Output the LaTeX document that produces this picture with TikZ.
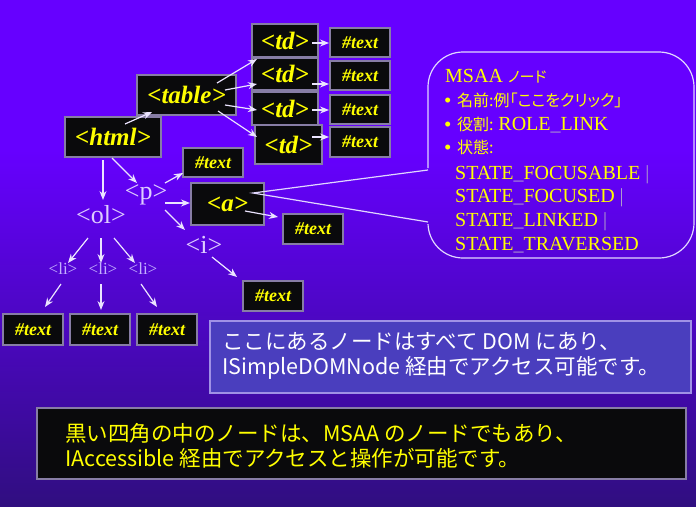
\documentclass[tikz,border=0pt]{standalone}
\usepackage{fontspec}
\setmainfont{Liberation Serif}
\newfontfamily\cjk{Noto Sans CJK JP}
\newfontfamily\cjkp[RawFeature=+palt]{Noto Sans CJK JP}
\usetikzlibrary{arrows.meta}
\definecolor{bgtop}{RGB}{102,0,255}
\definecolor{bgmid}{RGB}{88,0,222}
\definecolor{bgbot}{RGB}{48,14,128}
\definecolor{ylw}{RGB}{255,255,0}
\definecolor{lav}{RGB}{222,205,255}
\definecolor{lavdim}{RGB}{195,175,255}
\definecolor{arrc}{RGB}{235,228,255}
\definecolor{boxedge}{RGB}{135,125,165}
\definecolor{boxfill}{RGB}{10,10,12}
\definecolor{domfill}{RGB}{74,62,190}
\definecolor{domedge}{RGB}{160,145,230}
\definecolor{under}{RGB}{175,155,205}
\definecolor{callc}{RGB}{225,215,255}
\newcommand{\us}{\textcolor{under}{\_}}
\newcommand{\vb}{\textcolor{under}{|}}
\begin{document}
\begin{tikzpicture}[x=1pt,y=-1pt,
  blk/.style={draw=boxedge, line width=1.2pt, fill=boxfill, inner sep=0pt, text=ylw},
  tagbox/.style={blk, font=\bfseries\itshape\fontsize{25}{25}\selectfont},
  txtbox/.style={blk, minimum width=60pt, font=\bfseries\itshape\fontsize{18}{18}\selectfont},
  elem/.style={text=lav, inner sep=0pt, font=\fontsize{26}{26}\selectfont},
  lielem/.style={text=lavdim, inner sep=0pt, font=\fontsize{17}{17}\selectfont},
  arr/.style={draw=arrc, line width=1.2pt, -{Stealth[length=9pt,width=7pt]}},
  callln/.style={draw=callc, line width=1.2pt},
  ctext/.style={anchor=base west, inner sep=0pt, text=ylw, font=\fontsize{20}{20}\selectfont},
  cjtext/.style={anchor=base west, inner sep=0pt, text=ylw, font=\cjkp\fontsize{16}{16}\selectfont},
  bullet/.style={anchor=base west, inner sep=0pt, text=ylw, font=\fontsize{21}{21}\selectfont},
  bottxt/.style={anchor=west, inner sep=0pt, align=left, font=\cjk\fontsize{21.5}{25}\selectfont}
]
% background
\fill[bgtop] (0,0) rectangle (696,150);
\shade[top color=bgtop, bottom color=bgbot] (0,150) rectangle (696,506);
\useasboundingbox (0,0) rectangle (696,506);

% table subtree
\node[tagbox, minimum width=66pt, minimum height=33pt] (td1) at (285,40.5) {<td>};
\node[tagbox, minimum width=66pt, minimum height=32pt] (td2) at (285,74) {<td>};
\node[tagbox, minimum width=66pt, minimum height=33pt] (td3) at (285,108.5) {<td>};
\node[tagbox, minimum width=67pt, minimum height=39pt] (td4) at (288.5,144.5) {<td>};
\node[txtbox, minimum height=29pt] (t1) at (360,42.5) {\#text};
\node[txtbox, minimum height=29pt] (t2) at (360,75.5) {\#text};
\node[txtbox, minimum height=29pt] (t3) at (360,109.5) {\#text};
\node[txtbox, minimum height=30pt] (t4) at (360,142) {\#text};
\node[tagbox, minimum width=99pt, minimum height=40pt] (table) at (186.5,95) {<table>};
\node[tagbox, minimum width=96pt, minimum height=40pt] (html) at (113,137) {<html>};

% p subtree
\node[elem] (p) at (146,195) {<p>};
\node[elem] (ol) at (101,215) {<ol>};
\node[elem] (i) at (204,245) {<i>};
\node[txtbox, minimum height=29pt] (tp) at (213,162.5) {\#text};
\node[tagbox, minimum width=73pt, minimum height=42pt] (a) at (227.5,204) {<a>};
\node[txtbox, minimum height=30pt] (ta) at (313,229) {\#text};
\node[txtbox, minimum height=30pt] (ti) at (273,296) {\#text};

% ol subtree
\node[lielem] (li1) at (63,269) {<li>};
\node[lielem] (li2) at (103,269) {<li>};
\node[lielem] (li3) at (143,269) {<li>};
\node[txtbox, minimum height=31pt] (b1) at (33,329.5) {\#text};
\node[txtbox, minimum height=31pt] (b2) at (100,329.5) {\#text};
\node[txtbox, minimum height=31pt] (b3) at (167,329.5) {\#text};

% arrows
\draw[arr] ([shift={(12,-13)}]html.center) -- ([shift={(-34.5,17)}]table.center);
\draw[arr] ([shift={(30.5,-12)}]table.center) -- ([shift={(-28,18.5)}]td1.center);
\draw[arr] ([shift={(38.5,-5)}]table.center) -- ([shift={(-28,10)}]td2.center);
\draw[arr] ([shift={(38.5,10)}]table.center) -- ([shift={(-28,1.5)}]td3.center);
\draw[arr] ([shift={(31.5,16)}]table.center) -- ([shift={(-31.5,-7.5)}]td4.center);
\draw[arr] ([shift={(27,2.5)}]td1.center) -- ([shift={(-31,0.5)}]t1.center);
\draw[arr] ([shift={(27,10)}]td2.center) -- ([shift={(-31,8.5)}]t2.center);
\draw[arr] ([shift={(27,1.5)}]td3.center) -- ([shift={(-31,0.5)}]t3.center);
\draw[arr] ([shift={(23.5,-7.5)}]td4.center) -- ([shift={(-31,-5)}]t4.center);
\draw[arr] ([shift={(-10,23)}]html.center) -- ([shift={(2,-15)}]ol.center);
\draw[arr] ([shift={(-1,21)}]html.center) -- ([shift={(-9,-12)}]p.center);
\draw[arr] ([shift={(19,-12)}]p.center) -- ([shift={(-30,10.5)}]tp.center);
\draw[arr] ([shift={(19,8)}]p.center) -- ([shift={(-37.5,-1)}]a.center);
\draw[arr] ([shift={(19,15)}]p.center) -- ([shift={(-19,-15)}]i.center);
\draw[arr] ([shift={(17.5,7)}]a.center) -- ([shift={(-35,-12)}]ta.center);
\draw[arr] ([shift={(8,12)}]i.center) -- ([shift={(-36,-19)}]ti.center);
\draw[arr] ([shift={(-13,23)}]ol.center) -- ([shift={(5,-6)}]li1.center);
\draw[arr] ([shift={(0,23)}]ol.center) -- ([shift={(-2,-6)}]li2.center);
\draw[arr] ([shift={(13,23)}]ol.center) -- ([shift={(-8,-6)}]li3.center);
\draw[arr] ([shift={(-2,15)}]li1.center) -- ([shift={(12,-22.5)}]b1.center);
\draw[arr] ([shift={(-2,15)}]li2.center) -- ([shift={(1,-19.5)}]b2.center);
\draw[arr] ([shift={(-2,15)}]li3.center) -- ([shift={(-10,-22.5)}]b3.center);

% callout
\coordinate (tip) at ([shift={(25.5,-11)}]a.center);
\begin{scope}
  \clip (0,0) rectangle (429.8,168) (0,224) rectangle (429.8,506) (429.8,0) rectangle (696,506);
  \draw[callln, rounded corners=35pt] (428,52) rectangle (694,258);
\end{scope}
\draw[callln] (428,170) -- (tip) -- (428,222);
\node[ctext] (c0) at (445,82) {MSAA {\cjkp\fontsize{15}{15}\selectfont ノード}};
\node[bullet] (bu1) at (444,107) {•};
\node[cjtext] (c1) at (457,106) {名前:例「ここをクリック」};
\node[bullet] (bu2) at (444,131) {•};
\node[cjtext] (c2) at (457,130) {役割: {\rmfamily\fontsize{20}{20}\selectfont ROLE\us LINK}};
\node[bullet] (bu3) at (444,154) {•};
\node[cjtext] (c3) at (457,153) {状態:};
\node[ctext] (c4) at (455,179) {STATE\us FOCUSABLE \vb};
\node[ctext] (c5) at (455,202) {STATE\us FOCUSED \vb};
\node[ctext] (c6) at (455,226) {STATE\us LINKED \vb};
\node[ctext] (c7) at (455,250) {STATE\us TRAVERSED};

% bottom boxes
\node[draw=domedge, line width=1.2pt, fill=domfill, minimum width=481pt, minimum height=72pt, inner sep=0pt] (dom) at (450.5,357) {};
\node[bottxt, text=white] (domtext) at (222,356) {ここにあるノードはすべて DOM にあり、\\ISimpleDOMNode 経由でアクセス可能です。};
\node[draw=boxedge, line width=1.2pt, fill=boxfill, minimum width=649pt, minimum height=71pt, inner sep=0pt] (msaa) at (361.5,443.5) {};
\node[bottxt, text=ylw] (msaatext) at (65,445.5) {黒い四角の中のノードは、MSAA のノードでもあり、\\IAccessible 経由でアクセスと操作が可能です。};
\end{tikzpicture}
\end{document}
